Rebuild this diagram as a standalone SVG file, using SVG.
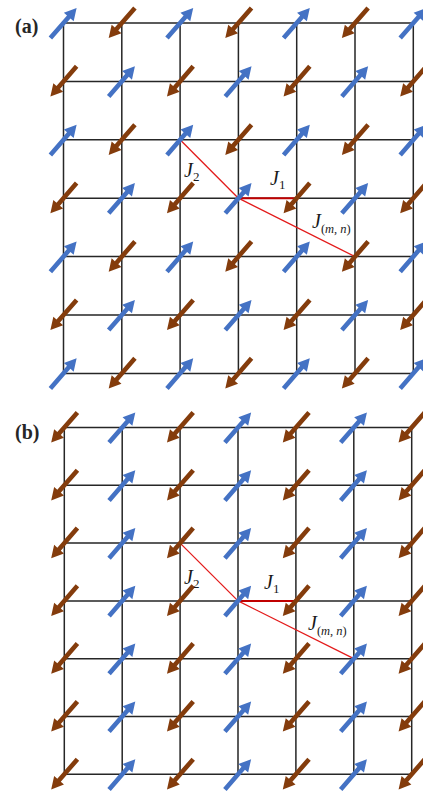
<svg xmlns="http://www.w3.org/2000/svg" xmlns:xlink="http://www.w3.org/1999/xlink" width="423" height="795" viewBox="0 0 423 795">
<style>
.grid{fill:none;stroke:#262626;stroke-width:1.5}
.bond{fill:none;stroke:#e31a1a;stroke-width:1.3}
.bond1{fill:none;stroke:#c00000;stroke-width:2}
.lbl{font-family:"Liberation Serif","Times New Roman",serif;font-style:italic;font-size:20px;fill:#1a1a1a}
.sub{font-size:13px}
.subs{font-size:12.5px}
.rom{font-style:normal}
.tag{font-family:"Liberation Serif","Times New Roman",serif;font-weight:bold;font-size:20px;fill:#262626}
</style>
<defs>
<path id="arr" d="M-20,-2.3 L8,-2.3 L8,-6.5 L20,0 L8,6.5 L8,2.3 L-20,2.3 Z"/>
<use id="up" xlink:href="#arr" href="#arr" fill="#4472c4" transform="rotate(-49)"/>
<use id="dn" xlink:href="#arr" href="#arr" fill="#843c0c" transform="rotate(131)"/>
</defs>
<rect width="423" height="795" fill="#fff"/>

<!-- Panel (a) -->
<text class="tag" x="15" y="33">(a)</text>
<g id="grid-a">
<path class="grid" d="M63.5,23V373.4M121.8,23V373.4M180.1,23V373.4M238.4,23V373.4M296.7,23V373.4M355,23V373.4M413.3,23V373.4M63.5,23H413.3M63.5,81.4H413.3M63.5,139.8H413.3M63.5,198.2H413.3M63.5,256.6H413.3M63.5,315H413.3M63.5,373.4H413.3"/>
</g>
<g id="bonds-a">
<path class="bond" d="M238.4,198.2L180.1,139.8"/>
<path class="bond" d="M238.4,198.2L355,256.6"/>
<path class="bond1" d="M238.4,198.2L296.7,198.2"/>
</g>
<g id="spins-a">
<g id="a00"><use href="#up" xlink:href="#up" x="63.5" y="23"/></g>
<g id="a01"><use href="#dn" xlink:href="#dn" x="121.8" y="23"/></g>
<g id="a02"><use href="#up" xlink:href="#up" x="180.1" y="23"/></g>
<g id="a03"><use href="#dn" xlink:href="#dn" x="238.4" y="23"/></g>
<g id="a04"><use href="#up" xlink:href="#up" x="296.7" y="23"/></g>
<g id="a05"><use href="#dn" xlink:href="#dn" x="355" y="23"/></g>
<g id="a06"><use href="#up" xlink:href="#up" x="413.3" y="23"/></g>
<g id="a10"><use href="#dn" xlink:href="#dn" x="63.5" y="81.4"/></g>
<g id="a11"><use href="#up" xlink:href="#up" x="121.8" y="81.4"/></g>
<g id="a12"><use href="#dn" xlink:href="#dn" x="180.1" y="81.4"/></g>
<g id="a13"><use href="#up" xlink:href="#up" x="238.4" y="81.4"/></g>
<g id="a14"><use href="#dn" xlink:href="#dn" x="296.7" y="81.4"/></g>
<g id="a15"><use href="#up" xlink:href="#up" x="355" y="81.4"/></g>
<g id="a16"><use href="#dn" xlink:href="#dn" x="413.3" y="81.4"/></g>
<g id="a20"><use href="#up" xlink:href="#up" x="63.5" y="139.8"/></g>
<g id="a21"><use href="#dn" xlink:href="#dn" x="121.8" y="139.8"/></g>
<g id="a22"><use href="#up" xlink:href="#up" x="180.1" y="139.8"/></g>
<g id="a23"><use href="#dn" xlink:href="#dn" x="238.4" y="139.8"/></g>
<g id="a24"><use href="#up" xlink:href="#up" x="296.7" y="139.8"/></g>
<g id="a25"><use href="#dn" xlink:href="#dn" x="355" y="139.8"/></g>
<g id="a26"><use href="#up" xlink:href="#up" x="413.3" y="139.8"/></g>
<g id="a30"><use href="#dn" xlink:href="#dn" x="63.5" y="198.2"/></g>
<g id="a31"><use href="#up" xlink:href="#up" x="121.8" y="198.2"/></g>
<g id="a32"><use href="#dn" xlink:href="#dn" x="180.1" y="198.2"/></g>
<g id="a33"><use href="#up" xlink:href="#up" x="238.4" y="198.2"/></g>
<g id="a34"><use href="#dn" xlink:href="#dn" x="296.7" y="198.2"/></g>
<g id="a35"><use href="#up" xlink:href="#up" x="355" y="198.2"/></g>
<g id="a36"><use href="#dn" xlink:href="#dn" x="413.3" y="198.2"/></g>
<g id="a40"><use href="#up" xlink:href="#up" x="63.5" y="256.6"/></g>
<g id="a41"><use href="#dn" xlink:href="#dn" x="121.8" y="256.6"/></g>
<g id="a42"><use href="#up" xlink:href="#up" x="180.1" y="256.6"/></g>
<g id="a43"><use href="#dn" xlink:href="#dn" x="238.4" y="256.6"/></g>
<g id="a44"><use href="#up" xlink:href="#up" x="296.7" y="256.6"/></g>
<g id="a45"><use href="#dn" xlink:href="#dn" x="355" y="256.6"/></g>
<g id="a46"><use href="#up" xlink:href="#up" x="413.3" y="256.6"/></g>
<g id="a50"><use href="#dn" xlink:href="#dn" x="63.5" y="315"/></g>
<g id="a51"><use href="#up" xlink:href="#up" x="121.8" y="315"/></g>
<g id="a52"><use href="#dn" xlink:href="#dn" x="180.1" y="315"/></g>
<g id="a53"><use href="#up" xlink:href="#up" x="238.4" y="315"/></g>
<g id="a54"><use href="#dn" xlink:href="#dn" x="296.7" y="315"/></g>
<g id="a55"><use href="#up" xlink:href="#up" x="355" y="315"/></g>
<g id="a56"><use href="#dn" xlink:href="#dn" x="413.3" y="315"/></g>
<g id="a60"><use href="#up" xlink:href="#up" x="63.5" y="373.4"/></g>
<g id="a61"><use href="#dn" xlink:href="#dn" x="121.8" y="373.4"/></g>
<g id="a62"><use href="#up" xlink:href="#up" x="180.1" y="373.4"/></g>
<g id="a63"><use href="#dn" xlink:href="#dn" x="238.4" y="373.4"/></g>
<g id="a64"><use href="#up" xlink:href="#up" x="296.7" y="373.4"/></g>
<g id="a65"><use href="#dn" xlink:href="#dn" x="355" y="373.4"/></g>
<g id="a66"><use href="#up" xlink:href="#up" x="413.3" y="373.4"/></g>
</g>
<g id="labels-a">
<text class="lbl" x="184" y="177">J<tspan class="sub rom" dy="4">2</tspan></text>
<text class="lbl" x="270" y="185">J<tspan class="sub rom" dy="4">1</tspan></text>
<text class="lbl" x="312" y="228">J<tspan class="subs" dy="5"><tspan class="rom">(</tspan>m<tspan class="rom">, </tspan>n<tspan class="rom">)</tspan></tspan></text>
</g>

<!-- Panel (b) -->
<text class="tag" x="15" y="439">(b)</text>
<g id="grid-b">
<path class="grid" d="M64.3,427.5V774.3M122.2,427.5V774.3M180.1,427.5V774.3M238,427.5V774.3M295.9,427.5V774.3M353.8,427.5V774.3M411.7,427.5V774.3M64.3,427.5H411.7M64.3,485.3H411.7M64.3,543.1H411.7M64.3,600.9H411.7M64.3,658.7H411.7M64.3,716.5H411.7M64.3,774.3H411.7"/>
</g>
<g id="bonds-b">
<path class="bond" d="M238,600.9L180.1,543.1"/>
<path class="bond" d="M238,600.9L353.8,658.7"/>
<path class="bond1" d="M238,600.9L295.9,600.9"/>
</g>
<g id="spins-b">
<g id="b00"><use href="#dn" xlink:href="#dn" x="64.3" y="427.5"/></g>
<g id="b01"><use href="#up" xlink:href="#up" x="122.2" y="427.5"/></g>
<g id="b02"><use href="#dn" xlink:href="#dn" x="180.1" y="427.5"/></g>
<g id="b03"><use href="#up" xlink:href="#up" x="238" y="427.5"/></g>
<g id="b04"><use href="#dn" xlink:href="#dn" x="295.9" y="427.5"/></g>
<g id="b05"><use href="#up" xlink:href="#up" x="353.8" y="427.5"/></g>
<g id="b06"><use href="#dn" xlink:href="#dn" x="411.7" y="427.5"/></g>
<g id="b10"><use href="#dn" xlink:href="#dn" x="64.3" y="485.3"/></g>
<g id="b11"><use href="#up" xlink:href="#up" x="122.2" y="485.3"/></g>
<g id="b12"><use href="#dn" xlink:href="#dn" x="180.1" y="485.3"/></g>
<g id="b13"><use href="#up" xlink:href="#up" x="238" y="485.3"/></g>
<g id="b14"><use href="#dn" xlink:href="#dn" x="295.9" y="485.3"/></g>
<g id="b15"><use href="#up" xlink:href="#up" x="353.8" y="485.3"/></g>
<g id="b16"><use href="#dn" xlink:href="#dn" x="411.7" y="485.3"/></g>
<g id="b20"><use href="#dn" xlink:href="#dn" x="64.3" y="543.1"/></g>
<g id="b21"><use href="#up" xlink:href="#up" x="122.2" y="543.1"/></g>
<g id="b22"><use href="#dn" xlink:href="#dn" x="180.1" y="543.1"/></g>
<g id="b23"><use href="#up" xlink:href="#up" x="238" y="543.1"/></g>
<g id="b24"><use href="#dn" xlink:href="#dn" x="295.9" y="543.1"/></g>
<g id="b25"><use href="#up" xlink:href="#up" x="353.8" y="543.1"/></g>
<g id="b26"><use href="#dn" xlink:href="#dn" x="411.7" y="543.1"/></g>
<g id="b30"><use href="#dn" xlink:href="#dn" x="64.3" y="600.9"/></g>
<g id="b31"><use href="#up" xlink:href="#up" x="122.2" y="600.9"/></g>
<g id="b32"><use href="#dn" xlink:href="#dn" x="180.1" y="600.9"/></g>
<g id="b33"><use href="#up" xlink:href="#up" x="238" y="600.9"/></g>
<g id="b34"><use href="#dn" xlink:href="#dn" x="295.9" y="600.9"/></g>
<g id="b35"><use href="#up" xlink:href="#up" x="353.8" y="600.9"/></g>
<g id="b36"><use href="#dn" xlink:href="#dn" x="411.7" y="600.9"/></g>
<g id="b40"><use href="#dn" xlink:href="#dn" x="64.3" y="658.7"/></g>
<g id="b41"><use href="#up" xlink:href="#up" x="122.2" y="658.7"/></g>
<g id="b42"><use href="#dn" xlink:href="#dn" x="180.1" y="658.7"/></g>
<g id="b43"><use href="#up" xlink:href="#up" x="238" y="658.7"/></g>
<g id="b44"><use href="#dn" xlink:href="#dn" x="295.9" y="658.7"/></g>
<g id="b45"><use href="#up" xlink:href="#up" x="353.8" y="658.7"/></g>
<g id="b46"><use href="#dn" xlink:href="#dn" x="411.7" y="658.7"/></g>
<g id="b50"><use href="#dn" xlink:href="#dn" x="64.3" y="716.5"/></g>
<g id="b51"><use href="#up" xlink:href="#up" x="122.2" y="716.5"/></g>
<g id="b52"><use href="#dn" xlink:href="#dn" x="180.1" y="716.5"/></g>
<g id="b53"><use href="#up" xlink:href="#up" x="238" y="716.5"/></g>
<g id="b54"><use href="#dn" xlink:href="#dn" x="295.9" y="716.5"/></g>
<g id="b55"><use href="#up" xlink:href="#up" x="353.8" y="716.5"/></g>
<g id="b56"><use href="#dn" xlink:href="#dn" x="411.7" y="716.5"/></g>
<g id="b60"><use href="#dn" xlink:href="#dn" x="64.3" y="774.3"/></g>
<g id="b61"><use href="#up" xlink:href="#up" x="122.2" y="774.3"/></g>
<g id="b62"><use href="#dn" xlink:href="#dn" x="180.1" y="774.3"/></g>
<g id="b63"><use href="#up" xlink:href="#up" x="238" y="774.3"/></g>
<g id="b64"><use href="#dn" xlink:href="#dn" x="295.9" y="774.3"/></g>
<g id="b65"><use href="#up" xlink:href="#up" x="353.8" y="774.3"/></g>
<g id="b66"><use href="#dn" xlink:href="#dn" x="411.7" y="774.3"/></g>
</g>
<g id="labels-b">
<text class="lbl" x="184" y="584">J<tspan class="sub rom" dy="4">2</tspan></text>
<text class="lbl" x="264" y="589">J<tspan class="sub rom" dy="4">1</tspan></text>
<text class="lbl" x="308" y="630">J<tspan class="subs" dy="5"><tspan class="rom">(</tspan>m<tspan class="rom">, </tspan>n<tspan class="rom">)</tspan></tspan></text>
</g>
</svg>
